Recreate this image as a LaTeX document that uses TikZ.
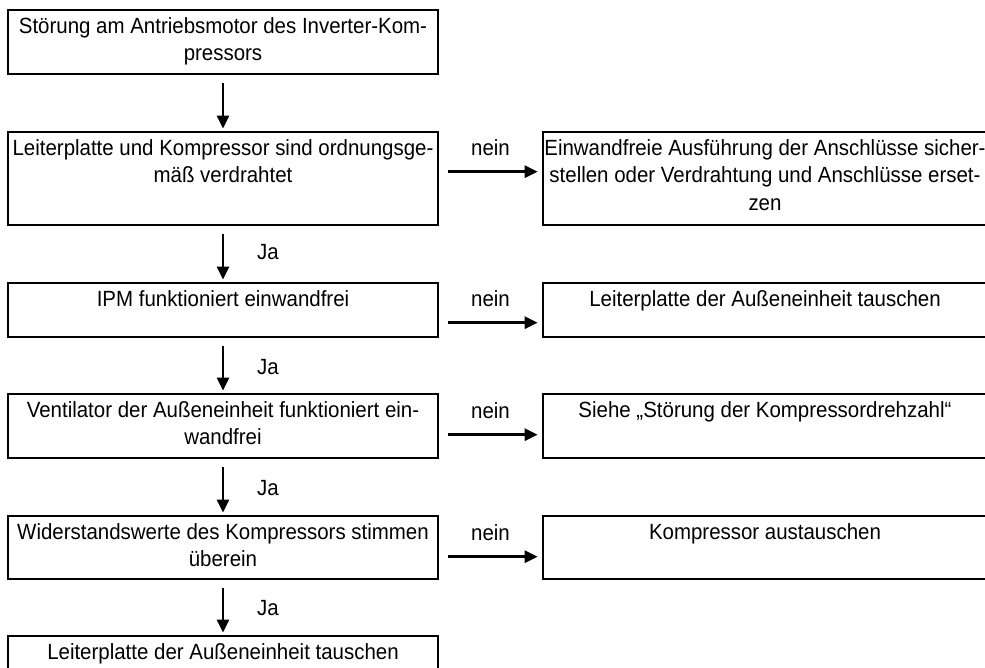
\documentclass[tikz,border=0pt]{standalone}
\usepackage{fontspec}
\setmainfont[FakeStretch=0.93]{Liberation Sans}
\usetikzlibrary{arrows.meta}
\newcommand{\bxtext}[3]{\parbox[c][#1][t]{#2}{\centering\begin{tabular}{@{}c@{}}\rule{0pt}{23pt}#3\end{tabular}}}
\tikzset{
  box/.style={draw, line width=2.7pt, inner sep=0pt, font=\fontsize{22}{27.5}\selectfont},
  arr/.style={line width=2.7pt, -{Triangle[length=13pt,width=12pt]}},
  varr/.style={arr, shorten <=8pt, shorten >=2pt},
  harr/.style={arr, shorten <=9pt, shorten >=4pt},
  lbl/.style={font=\fontsize{22}{27.5}\selectfont, inner sep=0pt}
}
\begin{document}
\begin{tikzpicture}[x=1pt,y=-1pt]
\clip (0,0) rectangle (985,667);
% left column
\node[box] (b1) at (223,42)    {\bxtext{64pt}{430pt}{Störung am Antriebsmotor des Inverter-Kom-\\pressors}};
\node[box] (b2) at (223,178.5) {\bxtext{93pt}{430pt}{Leiterplatte und Kompressor sind ordnungsge-\\mäß verdrahtet}};
\node[box] (b3) at (223,310)   {\bxtext{54pt}{430pt}{IPM funktioniert einwandfrei}};
\node[box] (b4) at (223,426)   {\bxtext{64pt}{430pt}{Ventilator der Außeneinheit funktioniert ein-\\wandfrei}};
\node[box] (b5) at (223,547.5) {\bxtext{63pt}{430pt}{Widerstandswerte des Kompressors stimmen\\überein}};
\node[box] (b6) at (223,668)   {\bxtext{64pt}{430pt}{Leiterplatte der Außeneinheit tauschen}};
% right column
\node[box] (r2) at (765,178.5) {\bxtext{93pt}{444pt}{Einwandfreie Ausführung der Anschlüsse sicher-\\stellen oder Verdrahtung und Anschlüsse erset-\\zen}};
\node[box] (r3) at (765,310)   {\bxtext{54pt}{444pt}{Leiterplatte der Außeneinheit tauschen}};
\node[box] (r4) at (765,426)   {\bxtext{64pt}{444pt}{Siehe „Störung der Kompressordrehzahl“}};
\node[box] (r5) at (765,547.5) {\bxtext{63pt}{444pt}{Kompressor austauschen}};
% vertical arrows
\draw[varr] (b1) -- (b2);
\draw[varr] (b2) -- node[lbl, xshift=45pt, yshift=2pt] (ja1) {Ja} (b3);
\draw[varr] (b3) -- node[lbl, xshift=45pt, yshift=-2pt] (ja2) {Ja} (b4);
\draw[varr] (b4) -- node[lbl, xshift=45pt, yshift=-1pt] (ja3) {Ja} (b5);
\draw[varr] (b5) -- node[lbl, xshift=45pt, yshift=-1pt] (ja4) {Ja} (b6);
% horizontal arrows
\draw[harr] ([yshift=-41pt]b2.north east) -- node[lbl, yshift=24pt] (n1) {nein} ([yshift=-41pt]r2.north west);
\draw[harr] ([yshift=-41pt]b3.north east) -- node[lbl, yshift=24pt] (n2) {nein} ([yshift=-41pt]r3.north west);
\draw[harr] ([yshift=-42pt]b4.north east) -- node[lbl, yshift=24pt] (n3) {nein} ([yshift=-42pt]r4.north west);
\draw[harr] ([yshift=-42pt]b5.north east) -- node[lbl, yshift=24pt] (n4) {nein} ([yshift=-42pt]r5.north west);
\end{tikzpicture}
\end{document}
